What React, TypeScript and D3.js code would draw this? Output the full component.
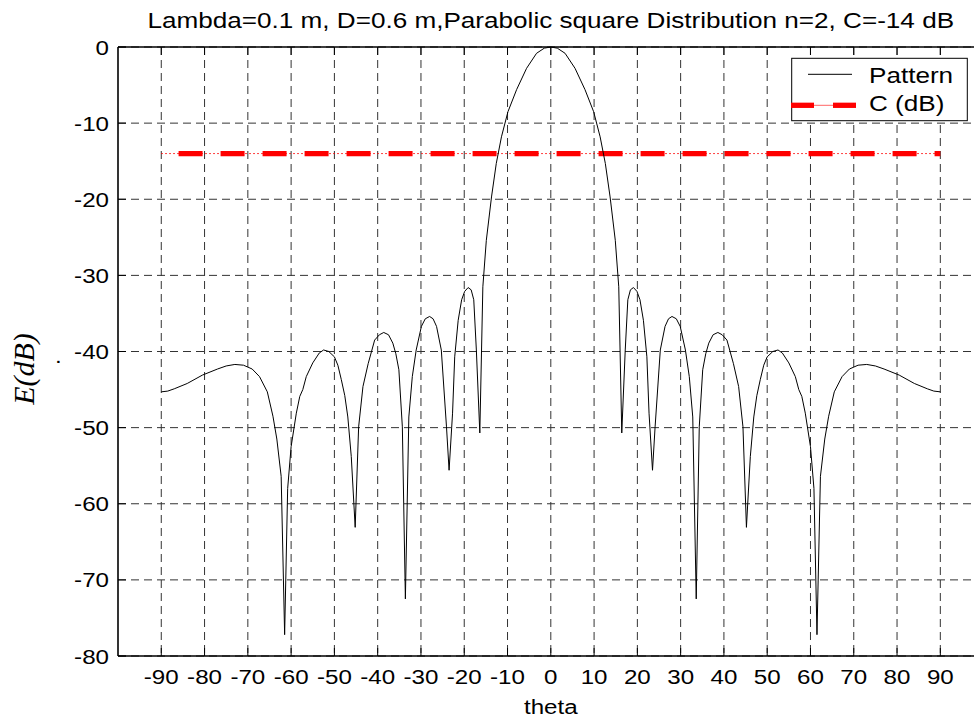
import React from "react";
import * as d3 from "d3";

const titleText = "Lambda=0.1 m, D=0.6 m,Parabolic square Distribution n=2, C=-14 dB";
const xTicks = [-90, -80, -70, -60, -50, -40, -30, -20, -10, 0, 10, 20, 30, 40, 50, 60, 70, 80, 90];
const yTicks = [0, -10, -20, -30, -40, -50, -60, -70, -80];

const theta = [
  -90, -88.5, -87, -84, -80.5, -77, -75, -73, -71, -69,
  -67.3, -65.5, -64.2, -63.3, -62.3, -61.5, -60.8, -60.0, -58.8, -58.0,
  -57.3, -56.5, -55.0, -53.5, -52.5, -51.3, -50.0, -49.2, -48.4, -47.6,
  -46.9, -46.1, -45.2, -44.4, -43.4, -42.2, -40.7, -39.6, -38.6, -37.5,
  -36.5, -35.8, -35.1, -34.3, -33.6, -32.8, -32.0, -31.1, -29.9, -29.0,
  -28.0, -27.2, -26.4, -25.3, -24.1, -23.5, -22.7, -22.2, -21.4, -20.6,
  -19.9, -19.1, -18.4, -17.8, -17.2, -16.4, -15.7, -14.9, -13.7, -12.6,
  -11.4, -9.9, -7.9, -5.6, -3.3, -1.5, 0,
  1.5, 3.3, 5.6, 7.9, 9.9, 11.4, 12.6, 13.7, 14.9, 15.7,
  16.4, 17.2, 17.8, 18.4, 19.1, 19.9, 20.6, 21.4, 22.2, 22.7,
  23.5, 24.1, 25.3, 26.4, 27.2, 28.0, 29.0, 29.9, 31.1, 32.0,
  32.8, 33.6, 34.3, 35.1, 35.8, 36.5, 37.5, 38.6, 39.6, 40.7,
  42.2, 43.4, 44.4, 45.2, 46.1, 46.9, 47.6, 48.4, 49.2, 50.0,
  51.3, 52.5, 53.5, 55.0, 56.5, 57.3, 58.0, 58.8, 60.0, 60.8,
  61.5, 62.3, 63.3, 64.2, 65.5, 67.3, 69, 71, 73, 75,
  77, 80.5, 84, 87, 88.5, 90,
];

const patternDb = [
  -45.3, -45.2, -44.9, -44.2, -43.1, -42.3, -41.9, -41.7, -41.8, -42.3,
  -43.3, -45.3, -48.5, -51.5, -56.4, -77.2, -58.0, -52.5, -48.1, -45.9,
  -45.0, -43.3, -41.5, -40.2, -39.8, -40.0, -40.7, -41.8, -43.7, -45.8,
  -48.6, -53.8, -63.1, -49.9, -44.6, -41.6, -38.5, -37.8, -37.5, -37.8,
  -38.9, -40.3, -42.4, -49.9, -72.5, -48.6, -43.3, -39.8, -36.7, -35.7,
  -35.4, -35.7, -36.7, -39.8, -49.9, -55.6, -48.1, -40.7, -35.9, -33.2,
  -32.1, -31.6, -31.9, -33.2, -39.8, -50.7, -31.5, -25.4, -19.7, -15.3,
  -11.8, -8.5, -5.6, -2.8, -0.83, -0.15, 0,
  -0.15, -0.83, -2.8, -5.6, -8.5, -11.8, -15.3, -19.7, -25.4, -31.5,
  -50.7, -39.8, -33.2, -31.9, -31.6, -32.1, -33.2, -35.9, -40.7, -48.1,
  -55.6, -49.9, -39.8, -36.7, -35.7, -35.4, -35.7, -36.7, -39.8, -43.3,
  -48.6, -72.5, -49.9, -42.4, -40.3, -38.9, -37.8, -37.5, -37.8, -38.5,
  -41.6, -44.6, -49.9, -63.1, -53.8, -48.6, -45.8, -43.7, -41.8, -40.7,
  -40.0, -39.8, -40.2, -41.5, -43.3, -45.0, -45.9, -48.1, -52.5, -58.0,
  -77.2, -56.4, -51.5, -48.5, -45.3, -43.3, -42.3, -41.8, -41.7, -41.9,
  -42.3, -43.1, -44.2, -44.9, -45.2, -45.3,
];

const cTheta = [-90, 90];
const cDb = [-14, -14];

const W = 974;
const H = 720;
const L = 118;
const R = 983.6;
const T = 47;
const B = 656;
const SX = 1.15;
const FONT = "'Liberation Sans', Arial, sans-serif";

function Txt(props: { x: number; y: number; anchor?: string; size: number; children: React.ReactNode; sx?: number; family?: string; style?: string }) {
  const sx = props.sx ?? SX;
  return (
    <text
      transform={`translate(${props.x},${props.y}) scale(${sx},1)`}
      textAnchor={props.anchor ?? "start"}
      fontSize={props.size}
      fontFamily={props.family ?? FONT}
      fontStyle={props.style ?? "normal"}
      fill="#000"
    >
      {props.children}
    </text>
  );
}

export default function App() {
  const x = d3.scaleLinear().domain([-100, 100]).range([L, R]);
  const y = d3.scaleLinear().domain([-80, 0]).range([B, T]);

  const line = d3
    .line<number>()
    .x((_, i) => x(theta[i]))
    .y((d) => y(d));
  const cLine = d3
    .line<number>()
    .x((_, i) => x(cTheta[i]))
    .y((d) => y(d));

  const gridColor = "#333";
  const dash = "8,5";
  const tickLen = 8;

  return (
    <svg width={W} height={H} style={{ position: "absolute", left: 0, top: 0, background: "#fff" }}>
      <rect x={0} y={0} width={W} height={H} fill="#fff" />
      {/* grid */}
      {xTicks.map((t) => (
        <line key={"gx" + t} x1={x(t)} x2={x(t)} y1={T} y2={B} stroke={gridColor} strokeWidth={1} strokeDasharray={dash} />
      ))}
      {yTicks.map((t) => (
        <line key={"gy" + t} x1={L} x2={R} y1={y(t)} y2={y(t)} stroke={gridColor} strokeWidth={1} strokeDasharray={dash} />
      ))}
      {/* ticks */}
      {xTicks.map((t) => (
        <g key={"tx" + t}>
          <line x1={x(t)} x2={x(t)} y1={B} y2={B - tickLen} stroke="#000" strokeWidth={1} />
          <line x1={x(t)} x2={x(t)} y1={T} y2={T + tickLen} stroke="#000" strokeWidth={1} />
        </g>
      ))}
      {yTicks.map((t) => (
        <line key={"ty" + t} x1={L} x2={L + tickLen} y1={y(t)} y2={y(t)} stroke="#000" strokeWidth={1} />
      ))}
      {/* C line */}
      <path d={cLine(cDb) || ""} fill="none" stroke="#ff0000" strokeWidth={1} strokeDasharray="1.5,2.5" />
      <path d={cLine(cDb) || ""} fill="none" stroke="#ff0000" strokeWidth={5.3} strokeDasharray="24,18" strokeDashoffset={24.7} />
      {/* pattern */}
      <path d={line(patternDb) || ""} fill="none" stroke="#000" strokeWidth={1} strokeLinejoin="round" />
      {/* axes box */}
      <line x1={L} x2={R} y1={T} y2={T} stroke="#000" strokeWidth={1.3} />
      <line x1={L} x2={R} y1={B} y2={B} stroke="#000" strokeWidth={1.6} />
      <line x1={L} x2={L} y1={T} y2={B} stroke="#000" strokeWidth={1.6} />
      {/* tick labels */}
      {xTicks.map((t) => (
        <Txt key={"lx" + t} x={x(t)} y={B + 28} anchor="middle" size={21}>
          {String(t)}
        </Txt>
      ))}
      {yTicks.map((t) => (
        <Txt key={"ly" + t} x={L - 9} y={y(t) + 7.5} anchor="end" size={21}>
          {String(t)}
        </Txt>
      ))}
      {/* title */}
      <Txt x={(L + R) / 2} y={28} anchor="middle" size={22.7}>
        {titleText}
      </Txt>
      {/* x label */}
      <Txt x={(L + R) / 2} y={714} anchor="middle" size={21}>
        theta
      </Txt>
      {/* y label */}
      <text
        transform={`translate(34,369) rotate(-90)`}
        textAnchor="middle"
        fontSize={30}
        fontFamily="'Liberation Serif', 'Times New Roman', serif"
        fontStyle="italic"
        fill="#000"
      >
        E(dB)
      </text>
      <Txt x={55} y={363} size={21}>.</Txt>
      {/* legend */}
      <rect x={791.7} y={58.3} width={175.6} height={62.4} fill="#fff" stroke="#000" strokeWidth={1} />
      <line x1={808} x2={852} y1={74.3} y2={74.3} stroke="#000" strokeWidth={1} />
      <line x1={791} x2={856} y1={105.3} y2={105.3} stroke="#ff6666" strokeWidth={1} />
      <line x1={791} x2={814} y1={105.3} y2={105.3} stroke="#ff0000" strokeWidth={5.3} />
      <line x1={833} x2={856} y1={105.3} y2={105.3} stroke="#ff0000" strokeWidth={5.3} />
      <Txt x={869} y={82.5} size={22.7}>Pattern</Txt>
      <Txt x={869} y={111} size={22.7}>C (dB)</Txt>
    </svg>
  );
}
